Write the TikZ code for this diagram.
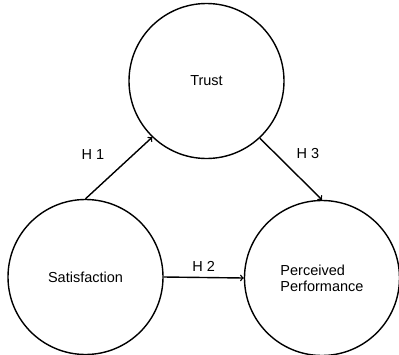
\documentclass[tikz,border=0pt]{standalone}
\usepackage{fontspec}
\setmainfont{Liberation Sans}
\usetikzlibrary{arrows}

\begin{document}
\begin{tikzpicture}%
        [x=1pt, y=-1pt,
        construct/.style={circle, draw=black, line width=1.4pt, minimum size=155pt, inner sep=0pt, align=left, font=\fontsize{14.5}{16}\selectfont},
        hyp/.style={draw=black, line width=1.4pt, ->},
        hlabel/.style={font=\fontsize{14.5}{16}\selectfont}]

    \useasboundingbox (0,0) rectangle (399,354);
    %% Drawing the constructs
    \node[construct] (trust) at (206.5, 81) {Trust};
    \node[construct] (sat) at (85.5, 277) {Satisfaction};
    \node[construct] (perf) at (322, 278) {Perceived\\Performance};
    %%
    %% Drawing the hypotheses
    %%
    \draw[hyp] (sat.north) -- (trust.226) node[hlabel, midway, xshift=-26pt, yshift=14pt] {H 1};
    \draw[hyp] (sat.east) -- (perf.west) node[hlabel, midway, above=2pt] {H 2};
    \draw[hyp] (trust.-47) -- (perf.north) node[hlabel, midway, xshift=17pt, yshift=15pt] {H 3};
    %%
\end{tikzpicture}
\end{document}
